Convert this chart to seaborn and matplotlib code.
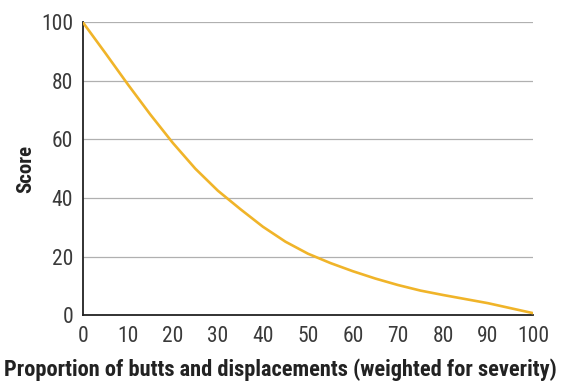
import matplotlib

matplotlib.use("Agg")

import matplotlib.pyplot as plt
import pandas as pd
import seaborn as sns
from matplotlib import font_manager

# values every 5 units
proportion = [0, 5, 10, 15, 20, 25, 30, 35, 40, 45, 50, 55, 60, 65, 70, 75, 80, 85, 90, 95, 100]
score = [100, 89.5, 78.8, 68.5, 58.8, 50, 42.5, 36.2, 30.2, 25.1, 21, 17.8, 15.0, 12.5, 10.3, 8.4, 6.9, 5.5, 4.1, 2.4, 0.7]
x_ticks = [0, 10, 20, 30, 40, 50, 60, 70, 80, 90, 100]
y_ticks = [0, 20, 40, 60, 80, 100]

x_label = "Proportion of butts and displacements (weighted for severity)"
y_label = "Score"


def pick_font() -> list[str]:
    available = {font.name for font in font_manager.fontManager.ttflist}
    for name in ["Roboto Condensed", "Liberation Sans Narrow", "DejaVu Sans Condensed"]:
        if name in available:
            return [name, "DejaVu Sans"]
    return ["DejaVu Sans"]


sns.set_theme(style="white")
plt.rcParams["font.family"] = pick_font()

data = pd.DataFrame({"proportion": proportion, "score": score})

fig = plt.figure(figsize=(5.65, 3.83), dpi=100)
ax = fig.add_axes([0.1465, 0.177, 0.797, 0.765])

for y in y_ticks[1:]:
    ax.axhline(y, color="#b0b0b0", linewidth=0.9, zorder=1)

sns.lineplot(data=data, x="proportion", y="score", color="#f0b429", linewidth=1.9, ax=ax, zorder=3)

ax.set_xlim(0, 100)
ax.set_ylim(0, 100)
ax.set_xticks(x_ticks)
ax.set_yticks(y_ticks)
ax.set_xticklabels([str(t) for t in x_ticks], fontsize=15.5, color="#3a3a3a")
ax.set_yticklabels([str(t) for t in y_ticks], fontsize=15.5, color="#3a3a3a")
ax.tick_params(axis="both", direction="out", length=6, width=1.1, color="#222222")
ax.tick_params(axis="x", pad=2)
ax.tick_params(axis="y", pad=1)
ax.xaxis.get_major_ticks()[0].tick1line.set_visible(False)
ax.yaxis.get_major_ticks()[0].tick1line.set_visible(False)

for side in ["top", "right"]:
    ax.spines[side].set_visible(False)
for side in ["left", "bottom"]:
    ax.spines[side].set_color("#222222")
    ax.spines[side].set_linewidth(1.3)

ax.set_xlabel(x_label, fontsize=16.1, fontweight="bold", color="#222222")
ax.xaxis.set_label_coords(0.438, -0.148, transform=ax.transAxes)
ax.xaxis.label.set_va("top")
ax.set_ylabel(y_label, fontsize=15, fontweight="bold", color="#222222", labelpad=4)

fig.savefig("out.png", dpi=100)
